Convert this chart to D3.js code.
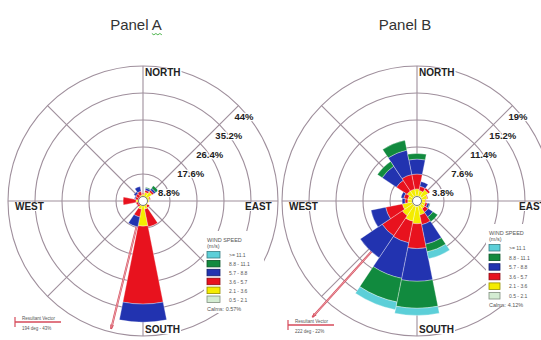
<!DOCTYPE html>
<html>
<head>
<meta charset="utf-8">
<script src="https://cdn.jsdelivr.net/npm/d3@7"></script>
<style>
  body { margin: 0; background: #fff; }
  svg { display: block; font-family: "Liberation Sans", Arial, sans-serif; }
</style>
</head>
<body>
<div id="chart"></div>
<script>
// compass sectors, clockwise from north
var directions = ["N", "NNE", "NE", "ENE", "E", "ESE", "SE", "SSE",
  "S", "SSW", "SW", "WSW", "W", "WNW", "NW", "NNW"];

// wind speed classes (m/s), stacked from the centre outwards
var speedKeys = ["s1", "s2", "s3", "s4", "s5", "s6"];
var speedLabels = ["0.5 - 2.1", "2.1 - 3.6", "3.6 - 5.7", "5.7 - 8.8", "8.8 - 11.1", ">= 11.1"];
var speedColors = ["#d3ecd2", "#f4ec00", "#e8121e", "#2233b0", "#118a3e", "#5ccfd8"];

// Panel A, frequency (%) per direction for each speed class
var a1 = [0.6, 0.6, 0.7, 0.6, 0.6, 0.5, 0.6, 0.7, 1.0, 0.7, 0.6, 0.6, 0.7, 0.6, 0.6, 0.6];
var a2 = [1.6, 2.3, 2.9, 1.6, 1.3, 1.0, 1.3, 2.0, 7.2, 2.0, 1.0, 1.0, 1.6, 1.0, 1.0, 1.3];
var a3 = [0.3, 0.7, 0.7, 0.3, 0.0, 0.0, 0.7, 5.9, 25.4, 2.6, 0.7, 0.7, 4.2, 1.0, 1.3, 1.3];
var a4 = [0.0, 0.7, 0.7, 0.0, 0.0, 0.0, 0.0, 0.0, 5.9, 3.3, 0.0, 0.0, 0.0, 0.3, 0.7, 1.6];
var a5 = [0.0, 0.3, 1.0, 0.0, 0.0, 0.0, 0.0, 0.0, 0.0, 0.0, 0.0, 0.0, 0.0, 0.0, 0.0, 0.0];
var a6 = [0.0, 0.0, 0.0, 0.0, 0.0, 0.0, 0.0, 0.0, 0.0, 0.0, 0.0, 0.0, 0.0, 0.0, 0.0, 0.0];
var aTicks = [8.8, 17.6, 26.4, 35.2, 44];
var aTickLabels = ["8.8%", "17.6%", "26.4%", "35.2%", "44%"];
var aCalms = "Calms: 0.57%";
var aResultant = { deg: 194, pct: 43 };

// Panel B
var b1 = [0.7, 0.7, 0.8, 0.7, 0.6, 0.6, 0.7, 0.7, 0.8, 0.8, 0.7, 0.7, 0.6, 0.6, 0.7, 0.7];
var b2 = [1.0, 0.8, 1.1, 0.8, 0.6, 0.6, 0.6, 1.3, 2.4, 2.1, 1.8, 1.4, 0.7, 0.7, 1.0, 1.0];
var b3 = [2.1, 0.6, 0.3, 0.1, 0.1, 0.3, 0.6, 1.4, 3.5, 3.1, 3.4, 2.4, 0.4, 0.6, 1.8, 2.1];
var b4 = [2.1, 0.7, 0.0, 0.0, 0.0, 0.3, 0.8, 2.8, 4.6, 5.1, 3.7, 2.1, 0.4, 0.4, 2.4, 3.5];
var b5 = [0.8, 0.0, 0.0, 0.0, 0.0, 0.1, 0.8, 1.1, 3.8, 3.4, 0.0, 0.0, 0.0, 0.0, 0.8, 1.4];
var b6 = [0.0, 0.0, 0.0, 0.0, 0.0, 0.0, 0.0, 1.0, 1.0, 1.1, 0.0, 0.0, 0.0, 0.0, 0.0, 0.0];
var bTicks = [3.8, 7.6, 11.4, 15.2, 19];
var bTickLabels = ["3.8%", "7.6%", "11.4%", "15.2%", "19%"];
var bCalms = "Calms: 4.12%";
var bResultant = { deg: 222, pct: 22 };

var width = 541, height = 340;
var outerR = 135;
var gridColor = "#9f8f9c";

var svg = d3.select("#chart").append("svg")
  .attr("width", width)
  .attr("height", height);

svg.append("rect").attr("width", width).attr("height", height).attr("fill", "#fff");

function toRows(series) {
  return directions.map(function(dir, i) {
    var row = { dir: dir };
    speedKeys.forEach(function(k, j) { row[k] = series[j][i]; });
    return row;
  });
}

function labelWithBox(g, text, x, y, size) {
  var t = g.append("text")
    .attr("x", x).attr("y", y)
    .attr("font-size", size)
    .attr("font-weight", "bold")
    .attr("fill", "#222")
    .text(text);
  var bb = t.node().getBBox();
  g.insert("rect", function() { return t.node(); })
    .attr("x", bb.x - 1).attr("y", bb.y + 1)
    .attr("width", bb.width + 2).attr("height", bb.height - 2)
    .attr("fill", "#fff");
}

function drawPanel(p) {
  var g = svg.append("g").attr("transform", "translate(" + p.cx + "," + p.cy + ")");

  var r = d3.scaleLinear().domain([0, p.ticks[p.ticks.length - 1]]).range([0, outerR]);

  // rings
  g.selectAll("circle.ring")
    .data(p.ticks)
    .enter()
    .append("circle")
    .attr("class", "ring")
    .attr("r", function(d) { return r(d); })
    .attr("fill", "none")
    .attr("stroke", gridColor)
    .attr("stroke-width", 1.1);

  // spokes every 45 deg
  g.selectAll("line.spoke")
    .data(d3.range(0, 360, 45))
    .enter()
    .append("line")
    .attr("class", "spoke")
    .attr("x1", 0).attr("y1", 0)
    .attr("x2", function(d) { return outerR * Math.sin(d * Math.PI / 180); })
    .attr("y2", function(d) { return -outerR * Math.cos(d * Math.PI / 180); })
    .attr("stroke", gridColor)
    .attr("stroke-width", 1.1);

  // resultant vector (sits under the petals)
  var a = p.resultant.deg * Math.PI / 180;
  var len = r(p.resultant.pct);
  var ex = len * Math.sin(a), ey = -len * Math.cos(a);
  g.append("line").attr("x1", 0).attr("y1", 0).attr("x2", ex).attr("y2", ey)
    .attr("stroke", "#d64a5a").attr("stroke-width", 2);
  g.append("line").attr("x1", 0).attr("y1", 0).attr("x2", ex).attr("y2", ey)
    .attr("stroke", "#f7dadd").attr("stroke-width", 0.6);
  var ah = 4.5, aw = 0.35;
  g.append("path")
    .attr("d", "M" + (ex - ah * Math.sin(a - aw)) + "," + (ey + ah * Math.cos(a - aw)) +
      "L" + ex + "," + ey +
      "L" + (ex - ah * Math.sin(a + aw)) + "," + (ey + ah * Math.cos(a + aw)))
    .attr("fill", "none").attr("stroke", "#d64a5a").attr("stroke-width", 0.9);

  // petals
  var stacked = d3.stack().keys(speedKeys)(toRows(p.series));
  var step = 2 * Math.PI / directions.length;
  var arc = d3.arc()
    .innerRadius(function(d) { return r(d[0]); })
    .outerRadius(function(d) { return r(d[1]); })
    .startAngle(function(d) { return d.i * step - step / 2; })
    .endAngle(function(d) { return d.i * step + step / 2; });

  g.selectAll("g.layer")
    .data(stacked)
    .enter()
    .append("g")
    .attr("class", "layer")
    .attr("fill", function(d, i) { return speedColors[i]; })
    .selectAll("path")
    .data(function(layer) {
      return layer.map(function(d, i) { d.i = i; return d; })
        .filter(function(d) { return d[1] > d[0]; });
    })
    .enter()
    .append("path")
    .attr("d", arc)
    .attr("stroke", "rgba(255,255,255,0.55)")
    .attr("stroke-width", 0.6);

  // calm circle
  g.append("circle").attr("r", 4.5).attr("fill", "#fff").attr("stroke", "#777").attr("stroke-width", 1);

  // compass labels
  labelWithBox(g, "NORTH", 2, -125, 10);
  labelWithBox(g, "SOUTH", 2, 132, 10);
  labelWithBox(g, "WEST", -128, 9, 10);
  labelWithBox(g, "EAST", 102, 9, 10);

  // ring labels along the NE diagonal
  g.selectAll("text.tick")
    .data(p.ticks)
    .enter()
    .append("text")
    .attr("class", "tick")
    .attr("x", function(d) { return r(d) * Math.SQRT1_2 - 4; })
    .attr("y", function(d) { return -r(d) * Math.SQRT1_2 + 14; })
    .attr("font-size", 9.5)
    .attr("font-weight", "bold")
    .attr("fill", "#222")
    .attr("stroke", "#fff")
    .attr("stroke-width", 2.5)
    .attr("paint-order", "stroke")
    .text(function(d, i) { return p.tickLabels[i]; });

  // title
  var title = svg.append("text")
    .attr("x", p.titleX).attr("y", 30)
    .attr("text-anchor", "middle")
    .attr("font-size", 15)
    .attr("fill", "#333")
    .text(p.title);
  if (p.squiggle) {
    var bb = title.node().getBBox();
    var sx = bb.x + bb.width - 10, sy = 33.5;
    var d = "M" + sx + "," + sy;
    for (var k = 1; k <= 5; k++) d += "L" + (sx + k * 2) + "," + (sy + (k % 2 ? 1.3 : 0));
    svg.append("path").attr("d", d).attr("fill", "none").attr("stroke", "#3cae3c").attr("stroke-width", 0.9);
  }

  // speed legend
  var lg = svg.append("g").attr("transform", "translate(" + p.legendX + "," + p.legendY + ")");
  lg.append("rect").attr("x", -3).attr("y", -11).attr("width", 60).attr("height", 82).attr("fill", "#fff");
  lg.append("text").attr("x", 0).attr("y", 0).attr("font-size", 5.5).attr("fill", "#555").text("WIND SPEED");
  lg.append("text").attr("x", 0).attr("y", 6).attr("font-size", 5.5).attr("fill", "#555").text("(m/s)");
  var order = speedLabels.map(function(l, i) { return i; }).reverse();
  var rows = lg.selectAll("g.row")
    .data(order)
    .enter()
    .append("g")
    .attr("class", "row")
    .attr("transform", function(d, i) { return "translate(0," + (13 + i * p.legendStep) + ")"; });
  rows.append("rect")
    .attr("x", 0).attr("y", -3.5)
    .attr("width", p.boxW).attr("height", 6.5)
    .attr("fill", function(d) { return speedColors[d]; })
    .attr("stroke", function(d) { return d3.color(speedColors[d]).darker(1.4); })
    .attr("stroke-width", 0.8);
  rows.append("text")
    .attr("x", p.boxW + 9).attr("y", 2)
    .attr("font-size", 5)
    .attr("fill", "#555")
    .text(function(d) { return speedLabels[d]; });
  lg.append("text").attr("x", 0).attr("y", 13 + 5 * p.legendStep + 11)
    .attr("font-size", 5.5).attr("fill", "#555").text(p.calms);

  // resultant vector key
  var rg = svg.append("g").attr("transform", "translate(" + p.keyX + "," + p.keyY + ")");
  rg.append("line").attr("x1", 0).attr("y1", -5).attr("x2", 0).attr("y2", 5)
    .attr("stroke", "#d64a5a").attr("stroke-width", 1.2);
  rg.append("line").attr("x1", 0).attr("y1", 0).attr("x2", 46).attr("y2", 0)
    .attr("stroke", "#d64a5a").attr("stroke-width", 1.6);
  rg.append("text").attr("x", 7).attr("y", -2).attr("font-size", 4.5).attr("fill", "#555").text("Resultant Vector");
  rg.append("text").attr("x", 7).attr("y", 8).attr("font-size", 4.5).attr("fill", "#555")
    .text(p.resultant.deg + " deg - " + p.resultant.pct + "%");
}

drawPanel({
  cx: 143, cy: 201, title: "Panel A", titleX: 136, squiggle: true,
  series: [a1, a2, a3, a4, a5, a6],
  ticks: aTicks, tickLabels: aTickLabels, calms: aCalms, resultant: aResultant,
  legendX: 207, legendY: 242, legendStep: 8.9, boxW: 13,
  keyX: 15, keyY: 322
});

drawPanel({
  cx: 417, cy: 201, title: "Panel B", titleX: 405, squiggle: false,
  series: [b1, b2, b3, b4, b5, b6],
  ticks: bTicks, tickLabels: bTickLabels, calms: bCalms, resultant: bResultant,
  legendX: 489, legendY: 235, legendStep: 9.6, boxW: 11,
  keyX: 288, keyY: 325
});
</script>
</body>
</html>
